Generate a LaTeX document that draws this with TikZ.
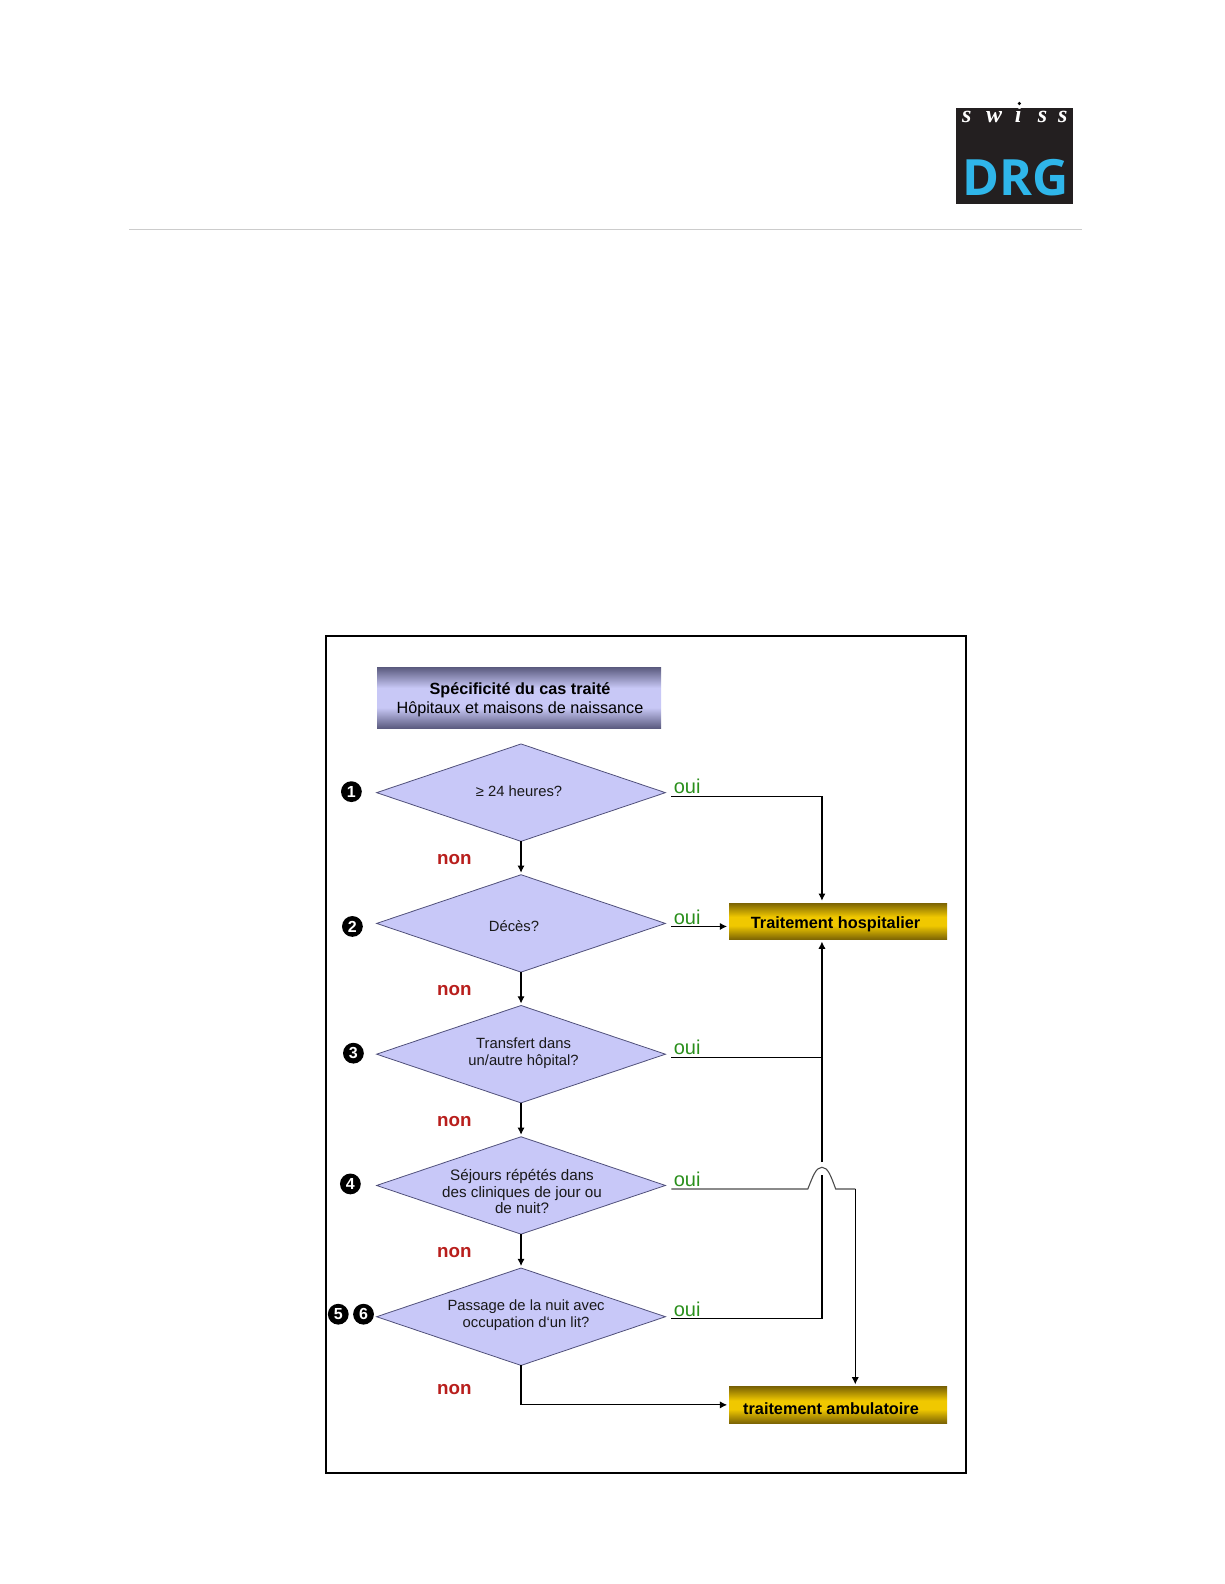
\documentclass[tikz,border=0pt]{standalone}
\usepackage{fontspec}
\setmainfont{Liberation Sans}
\newfontfamily\logoserif{Liberation Serif}
\newfontfamily\logosans{Open Sans}
\usetikzlibrary{shapes.geometric,arrows.meta}
\definecolor{diafill}{HTML}{C8C8F8}
\definecolor{diaedge}{HTML}{50507A}
\definecolor{hdrdark}{HTML}{5A5A7E}
\definecolor{hdrlight}{HTML}{C8C8F6}
\definecolor{golddark}{HTML}{7C6404}
\definecolor{goldlight}{HTML}{F0C800}
\definecolor{ouigreen}{HTML}{2A8F1C}
\definecolor{nonred}{HTML}{B81E1C}
\definecolor{logoblack}{HTML}{231F20}
\definecolor{logoblue}{HTML}{2FB6EA}
\pgfdeclareverticalshading{hdrshade}{100bp}{color(0bp)=(hdrdark);color(25bp)=(hdrdark);color(42bp)=(hdrlight);color(58bp)=(hdrlight);color(75bp)=(hdrdark);color(100bp)=(hdrdark)}
\pgfdeclareverticalshading{goldshade}{100bp}{color(0bp)=(golddark);color(25bp)=(golddark);color(44bp)=(goldlight);color(56bp)=(goldlight);color(75bp)=(golddark);color(100bp)=(golddark)}
\tikzset{
  dia/.style={shape=diamond,draw=diaedge,line width=.4pt,fill=diafill,minimum width=144.4pt,minimum height=48.7pt,inner sep=0pt,outer sep=0pt},
  diatext/.style={align=center,font=\fontsize{7.4}{8.1}\selectfont,text=black!90,inner sep=0pt},
  goldbox/.style={shape=rectangle,shading=goldshade,minimum width=109pt,minimum height=18.2pt,inner sep=0pt,outer sep=0pt},
  goldtext/.style={inner sep=0pt,font=\bfseries\fontsize{8.15}{10}\selectfont,text=black},
  numdot/.style={circle,fill=black,text=white,minimum size=10.4pt,inner sep=0pt,font=\bfseries\fontsize{8}{8}\selectfont},
  ouilab/.style={text=ouigreen,font=\fontsize{10}{10}\selectfont,inner sep=0pt},
  nonlab/.style={text=nonred,font=\bfseries\fontsize{9.4}{10}\selectfont,inner sep=0pt},
  conn/.style={draw=black,line width=.55pt},
  arr/.style={conn,-{Latex[length=3.6pt,width=3.6pt]},shorten >=1pt},
}
\begin{document}
\begin{tikzpicture}[x=.5049pt,y=-.5049pt]
\useasboundingbox (0,0) rectangle (1212.2,1568.7);
% logo
\node[shape=rectangle,fill=logoblack,minimum width=58.3pt,minimum height=47.7pt,inner sep=0pt,anchor=north west] (logo) at (946.7,107) {};
\node[text=white,inner sep=0pt,anchor=base,font=\logoserif\bfseries\itshape\fontsize{12}{12}\selectfont] (logos) at (1005,121) {s\hspace{7.3pt}w\hspace{6.4pt}i\hspace{8.2pt}s\hspace{5.4pt}s};
\node[circle,fill=black,minimum size=1.8pt,inner sep=0pt] (logodot) at (1009.5,102.5) {};
\node[text=logoblue,inner sep=0pt,anchor=base,font=\logosans\bfseries\fontsize{25}{26}\selectfont] (logod) at (1005.5,194) {DRG};
% rule
\draw[draw=black!20,line width=.5pt] (128,227) -- (1072,227);
% frame
\node[shape=rectangle,draw=black,line width=1pt,minimum width=320.3pt,minimum height=418.6pt,inner sep=0pt,anchor=north west] (frame) at (321.7,629) {};
% header
\node[shape=rectangle,shading=hdrshade,minimum width=142pt,minimum height=30.6pt,inner sep=0pt] (hdr) at (514,691) {};
\node[inner sep=0pt,align=center,font=\fontsize{8.1}{9.6}\selectfont,text=black] (hdrtext) at (515,692.8) {{\bfseries Spécificité du cas traité}\\Hôpitaux et maisons de naissance};
% diamonds
\node[dia] (d1) at (516,785) {};
\node[dia] (d2) at (516,914.5) {};
\node[dia] (d3) at (516,1044) {};
\node[dia] (d4) at (516,1174) {};
\node[dia] (d5) at (516,1304) {};
\node[diatext] (t1) at (514,783.5) {≥ 24 heures?};
\node[diatext] (t2) at (509,917.5) {Décès?};
\node[diatext] (t3) at (518.5,1043) {Transfert dans\\un/autre hôpital?};
\node[diatext,font=\fontsize{7.6}{8.1}\selectfont] (t4) at (517,1180) {Séjours répétés dans\\des cliniques de jour ou\\de nuit?};
\node[diatext] (t5) at (521,1302.5) {Passage de la nuit avec\\occupation d‘un lit?};
% numbers
\node[numdot] (n1) at (348,784) {1};
\node[numdot] (n2) at (349,917.5) {2};
\node[numdot] (n3) at (350,1043) {3};
\node[numdot] (n4) at (347,1172.5) {4};
\node[numdot] (n5) at (335,1301.5) {5};
\node[numdot] (n6) at (360,1301.5) {6};
% boxes
\node[goldbox] (b1) at (830,912.3) {};
\node[goldbox] (b2) at (830,1391.3) {};
\node[goldtext] (b1text) at (827.5,915) {Traitement hospitalier};
\node[goldtext] (b2text) at (823,1395) {traitement ambulatoire};
% labels
\node[ouilab] (o1l) at (680.5,778.5) {oui};
\node[ouilab] (o2l) at (680.5,908) {oui};
\node[ouilab] (o3l) at (680.5,1037.5) {oui};
\node[ouilab] (o4l) at (680.5,1167.5) {oui};
\node[ouilab] (o5l) at (680.5,1297) {oui};
\node[nonlab] (n1l) at (450,851) {non};
\node[nonlab] (n2l) at (450,981) {non};
\node[nonlab] (n3l) at (450,1111) {non};
\node[nonlab] (n4l) at (450,1240) {non};
\node[nonlab] (n5l) at (450,1376) {non};
% connector ends
\coordinate (o1) at (665,788.5);
\coordinate (o2) at (665,917.5);
\coordinate (o3) at (665,1047.5);
\coordinate (o4) at (665,1177.5);
\coordinate (o5) at (665,1306);
\coordinate (b1top) at (814,894);
\coordinate (b1bot) at (814,930.5);
\coordinate (b1l) at (722,917.5);
\coordinate (b2t) at (847,1373);
\coordinate (up) at (814,1306);
\coordinate (gaptop) at (814,1151);
\coordinate (gapbot) at (814,1164);
\coordinate (junc) at (814,1047.5);
\coordinate (al) at (800,1177.5);
\coordinate (ar) at (827.6,1177.5);
\coordinate (apeak) at (814,1156);
\coordinate (bend) at (847,1177.5);
% connectors
\draw[arr] (d1.south) -- (d2.north);
\draw[arr] (d2.south) -- (d3.north);
\draw[arr] (d3.south) -- (d4.north);
\draw[arr] (d4.south) -- (d5.north);
\draw[arr] (d5.south) |- (b2.west);
\draw[arr] (o1) -| (b1top);
\draw[arr] (o2) -- (b1l);
\draw[conn] (o3) -- (junc);
\draw[arr] (gaptop) -- (b1bot);
\draw[conn] (o5) -- (up) -- (gapbot);
\draw[conn,draw=black!70] (o4) -- (al) .. controls (805,1165) and (808,1156) .. (apeak) .. controls (820,1156) and (823,1165) .. (ar) -- (bend);
\draw[arr] (bend) -- (b2t);
\end{tikzpicture}
\end{document}
